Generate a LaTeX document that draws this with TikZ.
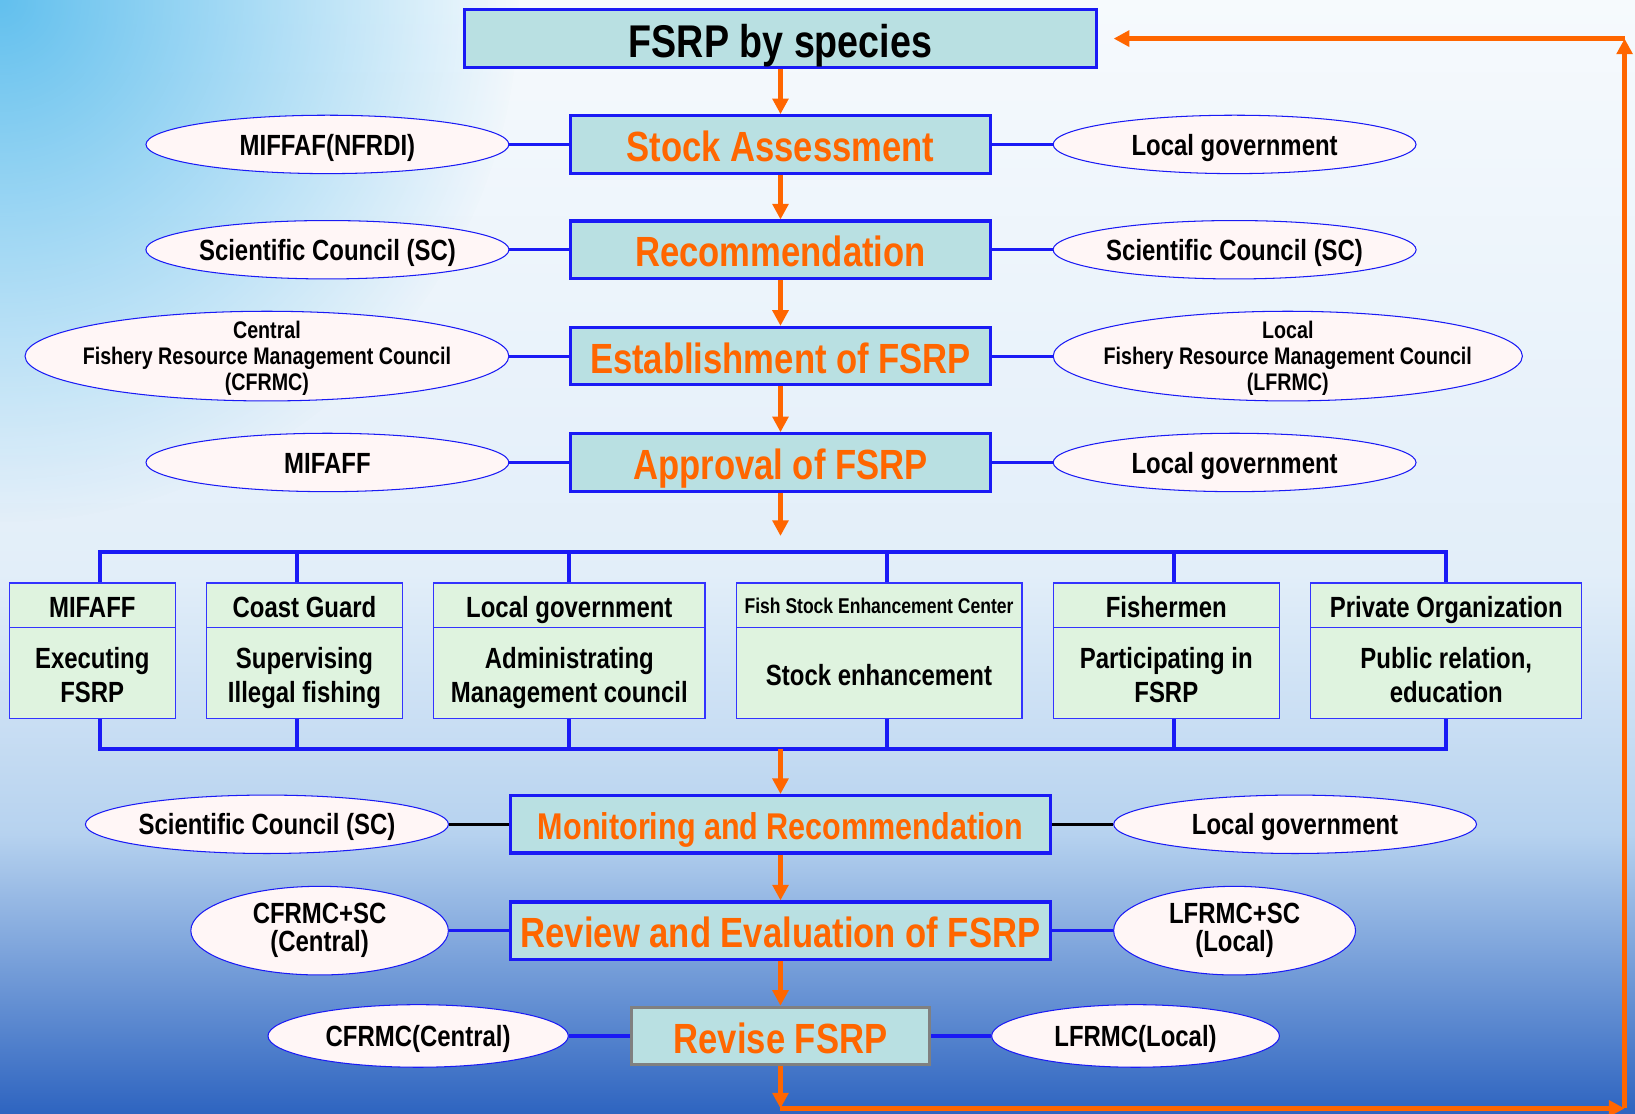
\documentclass[tikz,border=0pt]{standalone}
\usepackage{fontspec}
\usetikzlibrary{shapes.geometric,arrows.meta,fadings}
\newfontfamily\nar[FakeStretch=0.82]{Liberation Sans}
\definecolor{bblue}{HTML}{1A1AF5}
\definecolor{gblue}{HTML}{3333FF}
\definecolor{oran}{HTML}{FF6600}
\definecolor{tealf}{HTML}{B9E0E2}
\definecolor{greenf}{HTML}{DFF3DF}
\definecolor{pinkf}{HTML}{FFF6F6}
\definecolor{bgA}{HTML}{F6FAFD}
\definecolor{bgB}{HTML}{E2EEF9}
\definecolor{bgC}{HTML}{B6D2EF}
\definecolor{bgD}{HTML}{2E64C0}
\definecolor{cyanC}{HTML}{62C0EE}
\tikzfading[name=fadeTL, inner color=transparent!0, outer color=transparent!100]
\tikzset{
  mainbox/.style={draw=bblue, line width=3pt, fill=tealf, inner sep=0pt, minimum height=55pt,
    text=oran, text height=32.8pt, text depth=0pt, font=\nar\bfseries\fontsize{40.5}{44}\selectfont},
  ell/.style={ellipse, draw=bblue, line width=1pt, fill=pinkf, inner sep=0pt, align=center,
    text height=20.5pt, text depth=0pt, font=\nar\bfseries\fontsize{28}{27}\selectfont},
  gh/.style={draw=gblue, line width=1.2pt, fill=greenf, inner sep=0pt, minimum height=43pt,
    text height=23pt, text depth=0pt, font=\nar\bfseries\fontsize{28}{30}\selectfont},
  gb/.style={draw=gblue, line width=1.2pt, fill=greenf, inner sep=0pt, minimum height=87pt,
    align=center, text height=57pt, text depth=0pt, font=\nar\bfseries\fontsize{28}{33}\selectfont},
  flow/.style={draw=oran, line width=4.5pt, -{Triangle[width=15pt,length=15pt]}},
  link/.style={draw=bblue, line width=3pt},
  blink/.style={draw=black, line width=2.5pt},
  bar/.style={draw=bblue, line width=4pt, line join=miter},
}
\begin{document}
\begin{tikzpicture}[x=1pt,y=-1pt]
\useasboundingbox (0,0) rectangle (1568,1068);
% background
\begin{scope}
\clip (0,0) rectangle (1568,1068);
\shade[top color=bgA, bottom color=bgB] (0,0) rectangle (1568,551);
\shade[top color=bgB, bottom color=bgC] (0,550) rectangle (1568,801);
\shade[top color=bgC, bottom color=bgD] (0,800) rectangle (1568,1068);
\fill[cyanC, path fading=fadeTL] (0,0) circle (500);
\end{scope}

% main boxes
\node[mainbox, minimum width=606pt, text=black, text height=35.9pt, font=\nar\bfseries\fontsize{44}{48}\selectfont] (species) at (748.5,37) {FSRP by species};
\node[mainbox, minimum width=402pt] (sa) at (748.5,138.5) {Stock Assessment};
\node[mainbox, minimum width=402pt] (rec) at (748.5,239.5) {Recommendation};
\node[mainbox, minimum width=402pt] (est) at (748.5,341.5) {Establishment of FSRP};
\node[mainbox, minimum width=402pt] (app) at (748.5,443.5) {Approval of FSRP};
\node[mainbox, minimum width=518pt, text height=29pt, font=\nar\bfseries\fontsize{35.7}{40}\selectfont] (mon) at (748.5,790.5) {Monitoring and Recommendation};
\node[mainbox, minimum width=518pt] (rev) at (748.5,892.5) {Review and Evaluation of FSRP};
\node[mainbox, minimum width=286pt, draw=gray] (revise) at (748.5,993.5) {Revise FSRP};

% left ellipses
\node[ell, minimum width=348pt, minimum height=56pt] (e1) at (314,138.5) {MIFFAF(NFRDI)};
\node[ell, minimum width=348pt, minimum height=56pt] (e2) at (314,239.5) {Scientific Council (SC)};
\node[ell, minimum width=464pt, minimum height=86pt, inner xsep=-30pt, inner ysep=-30pt, text height=65.4pt, font=\nar\bfseries\fontsize{23}{25}\selectfont] (e3) at (256,341.5) {Central\\Fishery Resource Management Council\\(CFRMC)};
\node[ell, minimum width=348pt, minimum height=56pt] (e4) at (314,443.5) {MIFAFF};
\node[ell, minimum width=348pt, minimum height=56pt] (e5) at (256,790.5) {Scientific Council (SC)};
\node[ell, minimum width=247pt, minimum height=85pt, text height=40pt] (e6) at (306.5,892.5) {CFRMC+SC\\(Central)};
\node[ell, minimum width=288pt, minimum height=60pt] (e7) at (401,993.5) {CFRMC(Central)};

% right ellipses
\node[ell, minimum width=348pt, minimum height=56pt] (f1) at (1184,138.5) {Local government};
\node[ell, minimum width=348pt, minimum height=56pt] (f2) at (1184,239.5) {Scientific Council (SC)};
\node[ell, minimum width=450pt, minimum height=86pt, inner xsep=-30pt, inner ysep=-30pt, text height=65.4pt, font=\nar\bfseries\fontsize{23}{25}\selectfont] (f3) at (1235,341.5) {Local\\Fishery Resource Management Council\\(LFRMC)};
\node[ell, minimum width=348pt, minimum height=56pt] (f4) at (1184,443.5) {Local government};
\node[ell, minimum width=348pt, minimum height=56pt] (f5) at (1242,790.5) {Local government};
\node[ell, minimum width=232pt, minimum height=85pt, text height=40pt] (f6) at (1184,892.5) {LFRMC+SC\\(Local)};
\node[ell, minimum width=276pt, minimum height=60pt] (f7) at (1089,993.5) {LFRMC(Local)};

% links
\draw[link] (e1.east) -- (sa.west);
\draw[link] (e2.east) -- (rec.west);
\draw[link] (e3.east) -- (est.west);
\draw[link] (e4.east) -- (app.west);
\draw[blink] (e5.east) -- (mon.west);
\draw[link] (e6.east) -- (rev.west);
\draw[link] (e7.east) -- (revise.west);
\draw[link] (sa.east) -- (f1.west);
\draw[link] (rec.east) -- (f2.west);
\draw[link] (est.east) -- (f3.west);
\draw[link] (app.east) -- (f4.west);
\draw[blink] (mon.east) -- (f5.west);
\draw[link] (rev.east) -- (f6.west);
\draw[link] (revise.east) -- (f7.west);

% green boxes
\node[gh, minimum width=159pt] (g1h) at (88.5,580.5) {MIFAFF};
\node[gb, minimum width=159pt] (g1b) at (88.5,645.5) {Executing\\FSRP};
\node[gh, minimum width=188pt] (g2h) at (292,580.5) {Coast Guard};
\node[gb, minimum width=188pt] (g2b) at (292,645.5) {Supervising\\Illegal fishing};
\node[gh, minimum width=260pt] (g3h) at (546,580.5) {Local government};
\node[gb, minimum width=260pt] (g3b) at (546,645.5) {Administrating\\Management council};
\node[gh, minimum width=274pt, text height=16pt, font=\nar\bfseries\fontsize{20.5}{22}\selectfont] (g4h) at (843,580.5) {Fish Stock Enhancement Center};
\node[gb, minimum width=274pt, text height=23pt] (g4b) at (843,645.5) {Stock enhancement};
\node[gh, minimum width=217pt] (g5h) at (1118.5,580.5) {Fishermen};
\node[gb, minimum width=217pt] (g5b) at (1118.5,645.5) {Participating in\\FSRP};
\node[gh, minimum width=260pt] (g6h) at (1387,580.5) {Private Organization};
\node[gb, minimum width=260pt] (g6b) at (1387,645.5) {Public relation,\\education};

% brackets
\coordinate (t1) at (96,529); \coordinate (t2) at (285,529); \coordinate (t3) at (546,529);
\coordinate (t4) at (851,529); \coordinate (t5) at (1126,529); \coordinate (t6) at (1387,529);
\coordinate (b1) at (96,718); \coordinate (b2) at (285,718); \coordinate (b3) at (546,718);
\coordinate (b4) at (851,718); \coordinate (b5) at (1126,718); \coordinate (b6) at (1387,718);
\draw[bar] (t1 |- g1h.north) -- (t1) -- (t6) -- (t6 |- g6h.north);
\draw[bar] (b1 |- g1b.south) -- (b1) -- (b6) -- (b6 |- g6b.south);
\foreach \i in {2,3,4,5} {
  \draw[bar] (t\i) -- (t\i |- g\i h.north);
  \draw[bar] (b\i) -- (b\i |- g\i b.south);
}

% orange flow
\coordinate (apend) at (748.5,514);
\coordinate (barmid) at (748.5,718);
\coordinate (bl) at (748.5,1063);
\coordinate (br) at (1558,1063);
\coordinate (tr) at (1558,37);
\coordinate (tl) at (1068,37);
\draw[flow] (species.south) -- (sa.north);
\draw[flow] (sa.south) -- (rec.north);
\draw[flow] (rec.south) -- (est.north);
\draw[flow] (est.south) -- (app.north);
\draw[flow] (app.south) -- (apend);
\draw[flow] (barmid) -- (mon.north);
\draw[flow] (mon.south) -- (rev.north);
\draw[flow] (rev.south) -- (revise.north);
\draw[flow] (revise.south) -- (bl);
\draw[flow] (bl) -- (br);
\draw[flow] (br) -- (tr);
\draw[flow] (tr) -- (tl);
\end{tikzpicture}
\end{document}
